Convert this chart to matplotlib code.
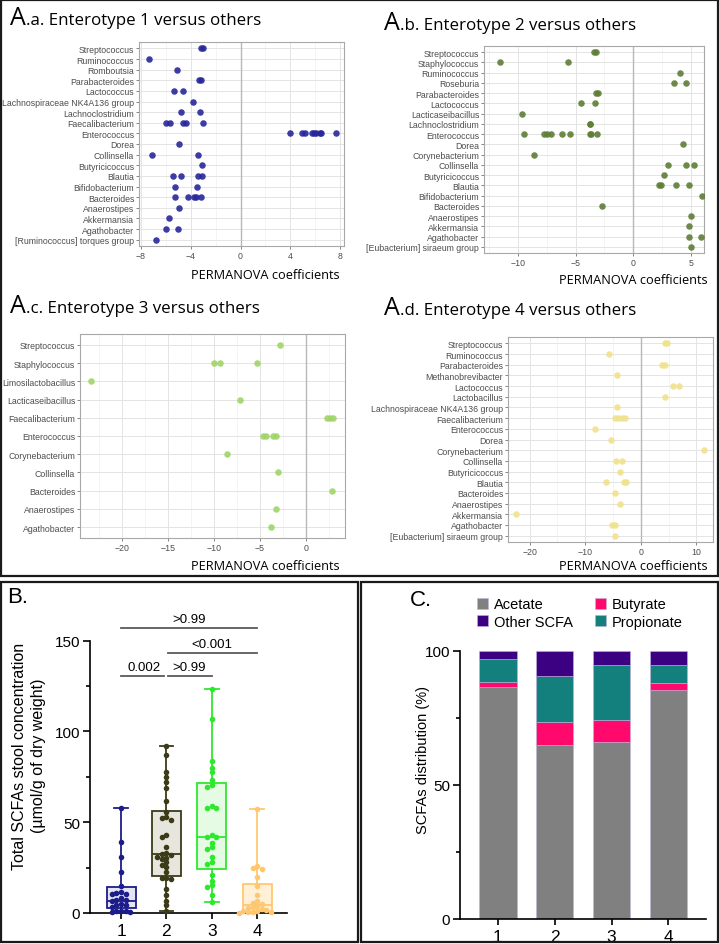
import numpy as np
import matplotlib
matplotlib.use('Agg')
import matplotlib.pyplot as plt
from matplotlib.patches import Rectangle, Patch

plt.rcParams['font.family'] = ['Liberation Sans', 'DejaVu Sans']

W, H = 719, 945

# ---------------- panel A data (PERMANOVA coefficients per genus) ----------------
aa_taxa = ['Streptococcus', 'Ruminococcus', 'Romboutsia', 'Parabacteroides', 'Lactococcus',
           'Lachnospiraceae NK4A136 group', 'Lachnoclostridium', 'Faecalibacterium', 'Enterococcus',
           'Dorea', 'Collinsella', 'Butyricicoccus', 'Blautia', 'Bifidobacterium', 'Bacteroides',
           'Anaerostipes', 'Akkermansia', 'Agathobacter', '[Ruminococcus] torques group']
aa_coef = [[-3.2, -3.0], [-7.37], [-5.07], [-3.3, -3.2], [-5.36, -4.61], [-3.8], [-4.8, -3.27],
           [-6.0, -5.7, -4.64, -4.4, -3.03], [3.94, 4.96, 5.17, 5.71, 5.9, 6.03, 6.38, 6.5, 7.7],
           [-4.93], [-7.1, -3.38], [-3.06], [-5.39, -4.8, -3.38, -3.06], [-5.3, -3.51],
           [-5.25, -4.26, -3.75, -3.59, -3.14], [-4.93], [-5.71], [-6.0, -5.04], [-6.78]]

ab_taxa = ['Streptococcus', 'Staphylococcus', 'Ruminococcus', 'Roseburia', 'Parabacteroides',
           'Lactococcus', 'Lacticaseibacillus', 'Lachnoclostridium', 'Enterococcus', 'Dorea',
           'Corynebacterium', 'Collinsella', 'Butyricicoccus', 'Blautia', 'Bifidobacterium',
           'Bacteroides', 'Anaerostipes', 'Akkermansia', 'Agathobacter', '[Eubacterium] siraeum group']
ab_coef = [[-3.44, -3.27], [-11.58, -5.67], [4.01], [3.5, 4.61], [-3.27, -3.07], [-4.5, -3.3],
           [-9.63], [-3.8, -3.76], [-9.46, -7.77, -7.45, -7.16, -6.19, -5.53, -3.75, -3.7, -3.18],
           [4.3], [-8.6], [3.04, 4.53, 5.24], [2.64], [2.2, 2.38, 3.72, 4.87], [5.96], [-2.72],
           [5.01], [4.87], [4.81, 5.87], [5.01]]

ac_taxa = ['Streptococcus', 'Staphylococcus', 'Limosilactobacillus', 'Lacticaseibacillus',
           'Faecalibacterium', 'Enterococcus', 'Corynebacterium', 'Collinsella', 'Bacteroides',
           'Anaerostipes', 'Agathobacter']
ac_coef = [[-2.85], [-10.0, -9.38, -5.36], [-23.36], [-7.15], [2.34, 2.63, 2.92],
           [-4.67, -4.38, -3.58, -3.28], [-8.58], [-2.99], [2.85], [-3.28], [-3.8]]

ad_taxa = ['Streptococcus', 'Ruminococcus', 'Parabacteroides', 'Methanobrevibacter', 'Lactococcus',
           'Lactobacillus', 'Lachnospiraceae NK4A136 group', 'Faecalibacterium', 'Enterococcus',
           'Dorea', 'Corynebacterium', 'Collinsella', 'Butyricicoccus', 'Blautia', 'Bacteroides',
           'Anaerostipes', 'Akkermansia', 'Agathobacter', '[Eubacterium] siraeum group']
ad_coef = [[4.4, 4.7], [-5.66], [3.86, 4.34], [-4.28], [5.78, 6.93], [4.4], [-4.34],
           [-4.64, -4.04, -3.43, -2.77], [-8.25], [-5.42], [11.39], [-4.46, -3.31], [-3.67],
           [-6.2, -3.01, -2.59], [-4.64], [-3.67], [-22.5], [-5.18, -4.64], [-4.64]]

# ---------------- panel B data (total SCFAs, umol/g dry weight) ----------------
groups = ['1', '2', '3', '4']
scfa_1 = [57.9, 39.0, 30.8, 22.6, 14.9, 11.5, 11.0, 10.5, 10.3, 8.0, 7.2, 7.0, 6.5, 4.8, 4.6,
          4.2, 3.5, 1.2, 1.0, 0.9, 0.7, 0.6]
scfa_2 = [91.8, 87.2, 77.5, 74.8, 72.0, 68.9, 61.9, 55.9, 53.0, 52.4, 51.0, 43.0, 41.7, 36.2,
          33.0, 32.5, 32.0, 31.1, 30.5, 29.8, 28.0, 26.5, 25.5, 22.5, 19.5, 19.2, 19.0, 13.4,
          10.1, 6.8, 4.2, 0.9]
scfa_3 = [123.6, 106.9, 83.9, 79.9, 77.5, 73.0, 70.6, 69.5, 58.9, 58.0, 57.8, 42.8, 42.0, 41.7,
          38.5, 36.2, 35.3, 31.1, 28.0, 27.1, 21.0, 17.5, 15.2, 14.1, 10.1, 6.1]
scfa_4 = [57.5, 26.1, 25.0, 24.2, 19.6, 15.1, 10.1, 6.8, 5.5, 5.0, 4.0, 3.1, 2.8, 2.2, 1.8,
          1.3, 1.0, 0.7, 0.5, 0.4, 0.2]
box_min = [0.5, 0.9, 6.1, 0.0]
box_q1 = [2.6, 20.6, 24.4, 0.8]
box_med = [6.8, 32.3, 41.9, 4.2]
box_q3 = [14.5, 56.0, 71.6, 15.8]
box_max = [57.9, 91.8, 123.6, 57.5]
# pairwise comparisons: (group a, group b, p label)
comparisons = [(1, 2, '0.002'), (2, 3, '>0.99'), (2, 4, '<0.001'), (1, 4, '>0.99')]

# ---------------- panel C data (SCFA distribution, %) ----------------
acetate = [86.6, 64.7, 65.9, 85.2]
butyrate = [1.6, 8.8, 8.3, 2.9]
propionate = [8.6, 17.2, 20.5, 6.6]
other_scfa = [3.2, 9.3, 5.3, 5.3]


def px_axes(fig, left, top, right, bottom):
    return fig.add_axes([left / W, 1 - bottom / H, (right - left) / W, (bottom - top) / H])


def fig_text(fig, x, y, s, **kw):
    return fig.text(x / W, 1 - y / H, s, **kw)


def permanova_panel(fig, box, taxa, coefs, color, xlim, major, minor,
                    title_xy, sub_x, title, xlabel_xy):
    ax = px_axes(fig, *box)
    n = len(taxa)
    for i, vals in enumerate(coefs):
        ax.scatter(vals, [i] * len(vals), s=22, color=color, alpha=0.9, lw=0, zorder=3)
    ax.set_ylim(n - 0.4, -0.6)
    ax.set_xlim(*xlim)
    ax.set_yticks(range(n))
    ax.set_yticklabels(taxa)
    ax.set_xticks(major)
    ax.set_xticks(minor, minor=True)
    ax.set_axisbelow(True)
    ax.grid(which='major', color='#e4e4e4', lw=0.7)
    ax.grid(which='minor', axis='x', color='#f0f0f0', lw=0.5)
    ax.axvline(0, color='#b8b8b8', lw=1.0, zorder=1.5)
    for s in ax.spines.values():
        s.set_color('#a8a8a8')
        s.set_linewidth(0.8)
    ax.tick_params(which='major', length=2, width=0.5, color='#555555',
                   labelsize=6.3, labelcolor='#4d4d4d', pad=1.5)
    ax.tick_params(which='minor', length=0)
    fig_text(fig, title_xy[0], title_xy[1], 'A', fontsize=18, family='Open Sans', va='baseline')
    fig_text(fig, sub_x, title_xy[1], title, fontsize=12.2, family='Open Sans', va='baseline')
    fig_text(fig, xlabel_xy[0], xlabel_xy[1], 'PERMANOVA coefficients', fontsize=9.2,
             family='Open Sans', ha='right', va='baseline')
    return ax


def swarm_offsets(vals, dy, dx):
    placed = []
    offs = []
    for v in vals:
        k = 0
        found = None
        while found is None:
            for c in ([0] if k == 0 else [-k, k]):
                x = c * dx
                if all(abs(x - px) > dx * 0.9 or abs(v - py) > dy for px, py in placed):
                    found = x
                    break
            k += 1
        placed.append((found, v))
        offs.append(found)
    return np.array(offs)


fig = plt.figure(figsize=(W / 100, H / 100), dpi=100)

# ---------- A ----------
permanova_panel(fig, (139, 43, 344, 247), aa_taxa, aa_coef, '#27279a', (-8.16, 8.32),
                [-8, -4, 0, 4, 8], [-6, -2, 2, 6], (9.5, 25), 26,
                '.a. Enterotype 1 versus others', (340, 279))
permanova_panel(fig, (484, 47, 704, 254), ab_taxa, ab_coef, '#5e7d36', (-12.95, 6.13),
                [-10, -5, 0, 5], [-12.5, -7.5, -2.5, 2.5], (384, 30.5), 400.5,
                '.b. Enterotype 2 versus others', (708, 284))
permanova_panel(fig, (80, 335, 345, 539), ac_taxa, ac_coef, '#a0d468', (-24.6, 4.25),
                [-20, -15, -10, -5, 0], [-22.5, -17.5, -12.5, -7.5, -2.5, 2.5], (9.5, 313),
                26, '.c. Enterotype 3 versus others', (340, 570))
permanova_panel(fig, (508, 338, 713, 543), ad_taxa, ad_coef, '#f0e28e', (-23.9, 13.0),
                [-20, -10, 0, 10], [-15, -5, 5], (384, 315), 400.5,
                '.d. Enterotype 4 versus others', (708, 570))

# ---------- B ----------
axb = px_axes(fig, 90, 641.7, 287, 914)
edge_cols = ['#1c1c8a', '#3b3b17', '#2ee82e', '#ffc870']
fill_cols = ['#e4e4f2', '#e6e6de', '#e6fbe4', '#fff0d6']
stats = [dict(med=box_med[i], q1=box_q1[i], q3=box_q3[i], whislo=box_min[i],
              whishi=box_max[i]) for i in range(4)]
for i in range(4):
    axb.bxp([stats[i]], positions=[i + 1], widths=0.64, showfliers=False, patch_artist=True,
            capwidths=[0.3],
            boxprops=dict(facecolor=fill_cols[i], edgecolor=edge_cols[i], lw=1.3),
            medianprops=dict(color=edge_cols[i], lw=1.3),
            whiskerprops=dict(color=edge_cols[i], lw=1.3),
            capprops=dict(color=edge_cols[i], lw=1.3))
for i, vals in enumerate([scfa_1, scfa_2, scfa_3, scfa_4]):
    offs = swarm_offsets(vals, 2.2, 0.1)
    axb.scatter(i + 1 + offs, vals, s=16, color=edge_cols[i], lw=0, zorder=4, clip_on=False)

axb.set_xlim(0.316, 4.66)
axb.set_ylim(0, 150)
axb.set_yticks([0, 50, 100, 150])
axb.set_yticks([25, 75, 125], minor=True)
axb.set_xticks([1, 2, 3, 4])
axb.set_xticklabels(groups)
for side in ['top', 'right']:
    axb.spines[side].set_visible(False)
for side in ['left', 'bottom']:
    axb.spines[side].set_linewidth(1.2)
axb.tick_params(axis='y', which='major', length=5, width=1.2, labelsize=11, pad=2)
axb.tick_params(axis='y', which='minor', length=3, width=1.2)
axb.tick_params(axis='x', length=4, width=1.2, labelsize=12.5, pad=3)

levels = [130.4, 130.4, 143.3, 157.0]
for (a, b, lab), yv in zip(comparisons, levels):
    x0 = a + (0.0 if a == 1 else 0.04)
    x1 = b - (0.045 if (a, b) == (1, 2) else 0.0)
    axb.plot([x0, x1], [yv, yv], color='#5a5a5a', lw=1.3, clip_on=False)
    axb.text((a + b) / 2, yv + 1.8, lab, ha='center', va='bottom', fontsize=9.5, clip_on=False)

fig_text(fig, 29, 756, 'Total SCFAs stool concentration\n(µmol/g of dry weight)', rotation=90,
         ha='center', va='center', fontsize=11.5, linespacing=1.3)
fig_text(fig, 7, 603, 'B.', fontsize=16, va='baseline')

# ---------- C ----------
axc = px_axes(fig, 460, 651.7, 706, 920)
xpos = np.arange(1, 5)
bottom = np.zeros(4)
bar_cols = {'Acetate': '#808080', 'Butyrate': '#ff0a6c', 'Propionate': '#13807e',
            'Other SCFA': '#3c0082'}
for name, vals in [('Acetate', acetate), ('Butyrate', butyrate),
                   ('Propionate', propionate), ('Other SCFA', other_scfa)]:
    axc.bar(xpos, vals, width=0.66, bottom=bottom, color=bar_cols[name],
            edgecolor='#c0b0dc', lw=0.4)
    bottom = bottom + np.array(vals)
axc.set_xlim(0.337, 4.66)
axc.set_ylim(0, 100)
axc.set_yticks([0, 50, 100])
axc.set_yticks([25, 75], minor=True)
axc.set_xticks(xpos)
axc.set_xticklabels(groups)
for side in ['top', 'right']:
    axc.spines[side].set_visible(False)
for side in ['left', 'bottom']:
    axc.spines[side].set_linewidth(1.2)
axc.tick_params(axis='y', which='major', length=5, width=1.2, labelsize=11, pad=2)
axc.tick_params(axis='y', which='minor', length=3, width=1.2)
axc.tick_params(axis='x', length=4, width=1.2, labelsize=12.5, pad=3)
fig_text(fig, 423, 760, 'SCFAs distribution (%)', rotation=90, ha='center', va='center',
         fontsize=10.5)
fig_text(fig, 410, 606, 'C.', fontsize=16, va='baseline')

handles = [Patch(facecolor=bar_cols[k], edgecolor='#c0b0dc', lw=0.4)
           for k in ['Acetate', 'Other SCFA', 'Butyrate', 'Propionate']]
axc.legend(handles, ['Acetate', 'Other SCFA', 'Butyrate', 'Propionate'], ncol=2,
           loc='upper left', bbox_to_anchor=(477 / W, 1 - 598.5 / H), bbox_transform=fig.transFigure,
           frameon=False, fontsize=10.5, handlelength=0.75, handleheight=0.75,
           handletextpad=0.4, columnspacing=1.5, labelspacing=0.22, borderpad=0,
           borderaxespad=0)

# ---------- panel frames ----------
for (l, t, r, b) in [(1, 1, 718, 577), (1, 583, 358, 943), (361, 583, 718, 943)]:
    fig.add_artist(Rectangle((l / W, 1 - b / H), (r - l) / W, (b - t) / H,
                             transform=fig.transFigure, fill=False, lw=1.6, ec='#1a1a1a'))

fig.savefig('out.png', dpi=100)
